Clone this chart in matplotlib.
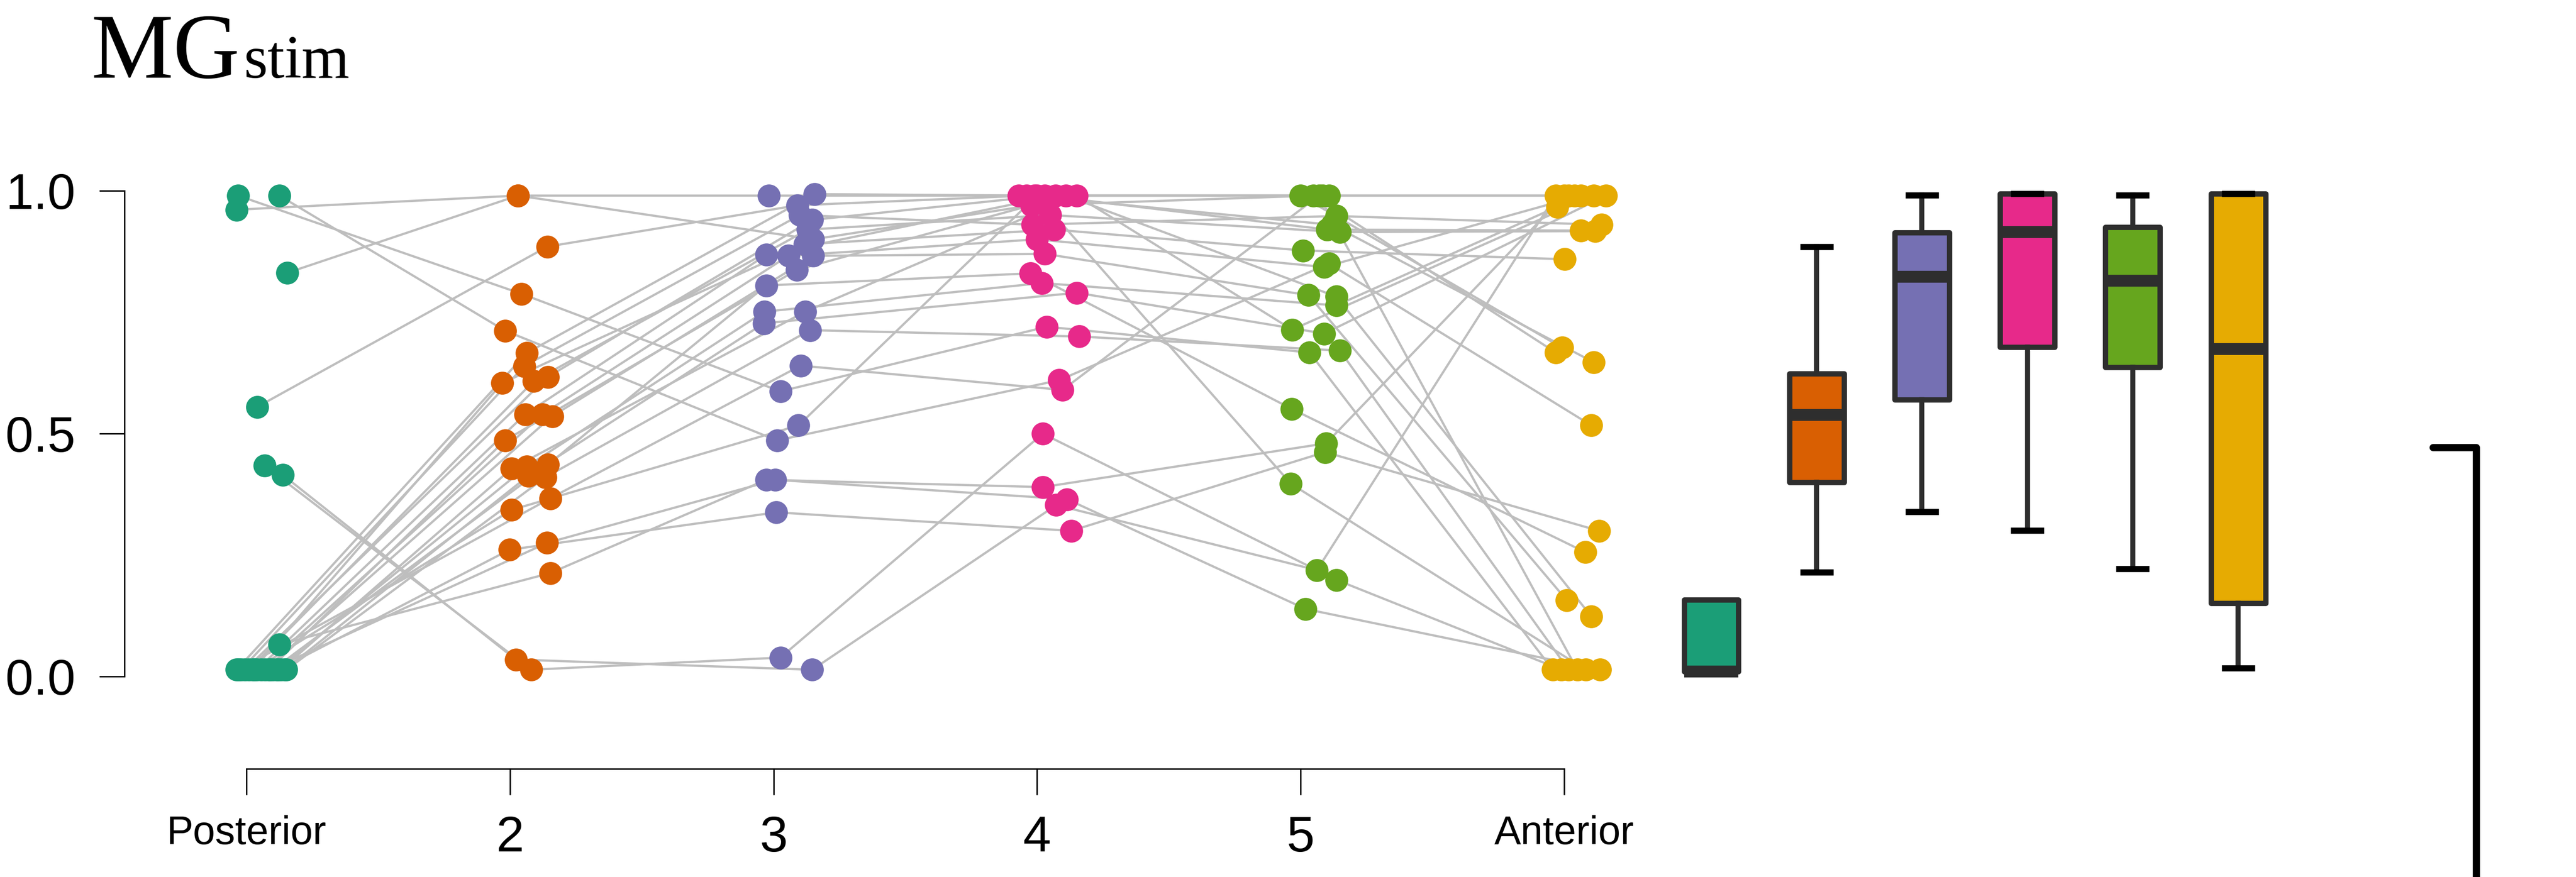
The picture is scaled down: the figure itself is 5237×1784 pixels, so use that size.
import matplotlib.pyplot as plt
from matplotlib.lines import Line2D
import numpy as np

plt.rcParams['font.family'] = ['Liberation Sans', 'DejaVu Sans']

positions = ['Posterior', '2', '3', '4', '5', 'Anterior']
colors = ['#1B9E77', '#D95F02', '#7570B3', '#E7298A', '#66A61E', '#E6AB02']

# one value per subject (26 subjects) at each position
posterior = [0.99, 0.99, 0.961, 0.831, 0.555, 0.434, 0.415, 0.066, 0.014, 0.014, 0.014, 0.014, 0.014,
             0.014, 0.014, 0.014, 0.014, 0.014, 0.014, 0.014, 0.014, 0.014, 0.014, 0.014, 0.014, 0.014]
pos2 = [0.788, 0.712, 0.99, 0.99, 0.885, 0.014, 0.035, 0.213, 0.666, 0.639, 0.617, 0.608, 0.604,
        0.54, 0.54, 0.536, 0.486, 0.436, 0.432, 0.428, 0.413, 0.41, 0.367, 0.343, 0.275, 0.261]
pos3 = [0.587, 0.486, 0.99, 0.90, 0.97, 0.039, 0.014, 0.405, 0.993, 0.95, 0.94, 0.92, 0.89,
        0.868, 0.866, 0.866, 0.837, 0.805, 0.751, 0.751, 0.727, 0.713, 0.64, 0.517, 0.405, 0.338]
pos4 = [0.72, 0.61, 0.99, 0.97, 0.99, 0.50, 0.353, 0.39, 0.99, 0.93, 0.99, 0.95, 0.92,
        0.99, 0.90, 0.87, 0.99, 0.83, 0.81, 0.99, 0.79, 0.70, 0.59, 0.99, 0.365, 0.30]
pos5 = [0.667, 0.85, 0.99, 0.99, 0.93, 0.199, 0.219, 0.48, 0.99, 0.948, 0.92, 0.915, 0.877,
        0.99, 0.843, 0.785, 0.782, 0.551, 0.764, 0.714, 0.706, 0.671, 0.99, 0.397, 0.139, 0.462]
anterior = [0.014, 0.517, 0.677, 0.667, 0.647, 0.014, 0.99, 0.99, 0.99, 0.93, 0.918, 0.917, 0.859,
            0.99, 0.99, 0.157, 0.124, 0.256, 0.967, 0.99, 0.99, 0.014, 0.014, 0.014, 0.014, 0.30]

# horizontal jitter of each point (category units)
jit_post = [-0.032, 0.125, -0.037, 0.155, 0.041, 0.069, 0.138, 0.125, -0.037, -0.02, -0.005, 0.01, 0.025,
            0.04, 0.055, 0.07, 0.085, 0.10, 0.115, 0.13, 0.145, 0.152, -0.03, 0.03, 0.09, 0.12]
jit2 = [0.043, -0.019, 0.030, 0.030, 0.142, 0.080, 0.022, 0.153, 0.063, 0.054, 0.144, 0.090, -0.030,
        0.058, 0.123, 0.160, -0.019, 0.144, 0.063, 0.006, 0.069, 0.134, 0.153, 0.006, 0.140, -0.002]
jit3 = [0.026, 0.013, -0.017, 0.151, 0.091, 0.026, 0.147, -0.028, 0.155, 0.10, 0.147, 0.13, 0.118,
        -0.028, 0.056, 0.151, 0.088, -0.028, -0.035, 0.12, -0.037, 0.138, 0.103, 0.095, 0.007, 0.011]
jit4 = [0.037, 0.084, -0.07, -0.022, -0.04, 0.022, 0.073, 0.022, -0.01, -0.017, 0.03, 0.05, 0.065,
        0.07, 0.0, 0.03, 0.11, -0.024, 0.018, 0.15, 0.151, 0.159, 0.097, 0.0, 0.114, 0.13]
jit5 = [0.034, 0.108, 0.0, 0.048, 0.119, 0.136, 0.062, 0.097, 0.084, 0.136, 0.101, 0.149, 0.009,
        0.108, 0.09, 0.03, 0.136, -0.034, 0.136, -0.032, 0.09, 0.149, 0.07, -0.037, 0.019, 0.093]
jit_ant = [-0.043, 0.103, -0.008, -0.032, 0.112, -0.01, -0.032, 0.0, 0.017, 0.142, 0.063, 0.117, 0.002,
           0.04, 0.063, 0.01, 0.103, 0.08, -0.026, 0.112, 0.159, 0.017, 0.05, 0.082, 0.136, 0.132]

# box summaries of the right panel
box_lo = [0.010, 0.215, 0.339, 0.301, 0.222, 0.017]
box_q1 = [0.010, 0.400, 0.570, 0.678, 0.637, 0.151]
box_med = [0.010, 0.539, 0.823, 0.915, 0.815, 0.674]
box_q3 = [0.158, 0.624, 0.914, 0.994, 0.925, 0.994]
box_hi = [0.158, 0.885, 0.991, 0.994, 0.991, 0.994]

values = np.array([posterior, pos2, pos3, pos4, pos5, anterior])
jitter = np.array([jit_post, jit2, jit3, jit4, jit5, jit_ant])
xs = np.arange(1, 7)[:, None] + jitter

fig = plt.figure(figsize=(5237 / 300, 1784 / 300), dpi=300)

# left panel: paired points
ax = fig.add_axes([0.04831, 0.12332, 0.5998, 0.68666])
ax.set_xlim(0.537, 6.4)
ax.set_ylim(-0.190, 1.0496)
for s in range(values.shape[1]):
    ax.plot(xs[:, s], values[:, s], color='#BEBEBE', lw=1.1, zorder=1)
for k in range(6):
    ax.plot(xs[k], values[k], 'o', ms=11.2, color=colors[k], mec='none', zorder=3)

for side in ['top', 'right']:
    ax.spines[side].set_visible(False)
ax.spines['left'].set_bounds(0, 1)
ax.spines['bottom'].set_bounds(1, 6)
ax.spines['left'].set_linewidth(0.7)
ax.spines['bottom'].set_linewidth(0.7)
ax.set_yticks([0, 0.5, 1.0])
ax.set_yticklabels(['0.0', '0.5', '1.0'])
ax.set_xticks(range(1, 7))
ax.set_xticklabels(positions)
ax.tick_params(axis='y', length=12.2, width=0.7, pad=11.8, labelsize=24.5)
ax.tick_params(axis='x', length=12.7, width=0.7, pad=9.8, labelsize=24.5)
for lab in ax.get_xticklabels():
    if lab.get_text() in ('Posterior', 'Anterior'):
        lab.set_fontsize(19.5)

# right panel: boxplots
bx = fig.add_axes([0.64923, 0.12332, 0.24823, 0.68666])
bx.set_xlim(0.6312, 6.700)
bx.set_ylim(-0.190, 1.0496)
stats = [dict(whislo=box_lo[i], q1=box_q1[i], med=box_med[i], q3=box_q3[i], whishi=box_hi[i], fliers=[])
         for i in range(6)]
dark = '#2E2E2E'
res = bx.bxp(stats, positions=range(1, 7), widths=0.518, patch_artist=True,
             capwidths=[0, 0.257, 0.257, 0.257, 0.257, 0.257],
             boxprops=dict(edgecolor=dark, linewidth=2.6, joinstyle='round'),
             medianprops=dict(color=dark, linewidth=5.8, solid_capstyle='butt'),
             whiskerprops=dict(color=dark, linewidth=2.5),
             capprops=dict(color='black', linewidth=3.0))
for patch, c in zip(res['boxes'], colors):
    patch.set_facecolor(c)
bx.axis('off')

# title
fig.text(186 / 5237, 1 - 158 / 1784, 'MG', fontsize=45, family='Liberation Serif', va='baseline')
fig.text(496 / 5237, 1 - 158 / 1784, 'stim', fontsize=30, family='Liberation Serif', va='baseline')

# bracket at the right edge
fig.add_artist(Line2D([4946 / 5237, 5034 / 5237, 5034 / 5237], [1 - 910 / 1784, 1 - 910 / 1784, -0.02],
                      color='black', lw=3.5, solid_capstyle='round', solid_joinstyle='round'))

fig.savefig('out.png', dpi=300)
